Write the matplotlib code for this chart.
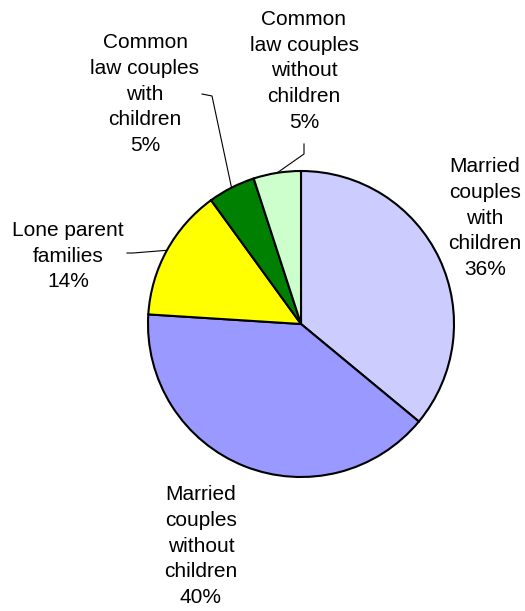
import numpy as np
import matplotlib.pyplot as plt

plt.rcParams['font.family'] = ['Liberation Sans', 'DejaVu Sans']

categorii = ['Married\ncouples\nwith\nchildren',
             'Married\ncouples\nwithout\nchildren',
             'Lone parent\nfamilies',
             'Common\nlaw couples\nwith\nchildren',
             'Common\nlaw couples\nwithout\nchildren']
procente = [36, 40, 14, 5, 5]
culori = ['#CCCCFF', '#9999FF', '#FFFF00', '#008000', '#CCFFCC']

W, H = 525, 611
# pozitii in pixeli (x, y de sus)
centru = (301, 324)
raza = 153
poz_etichete = [(485, 218), (201, 546), (68, 256), (145, 94), (304, 71)]
# capatul dinspre eticheta al liniei si cotul (None = fara linie)
linii = [None, None,
         [(127, 253), (133, 253)],
         [(202, 94), (212, 96)],
         [(304, 144), (304, 154)]]

fig = plt.figure(figsize=(W / 100, H / 100), dpi=100)
ax = fig.add_axes([0, 0, 1, 1])

wedges, _ = ax.pie(procente, colors=culori, startangle=90, counterclock=False,
                   center=(centru[0], H - centru[1]), radius=raza,
                   wedgeprops=dict(edgecolor='black', linewidth=1.5))

ax.set_xlim(0, W)
ax.set_ylim(0, H)
ax.set_aspect('equal')
ax.axis('off')

for i, w in enumerate(wedges):
    x, y = poz_etichete[i]
    ax.text(x, H - y, f'{categorii[i]}\n{procente[i]}%', ha='center', va='center',
            fontsize=15, linespacing=1.44)
    if linii[i] is not None:
        ang = np.deg2rad((w.theta1 + w.theta2) / 2)
        ex = centru[0] + raza * np.cos(ang)
        ey = H - centru[1] + raza * np.sin(ang)
        xs = [p[0] for p in linii[i]] + [ex]
        ys = [H - p[1] for p in linii[i]] + [ey]
        ax.plot(xs, ys, color='black', linewidth=0.8)

fig.savefig('out.png', dpi=100)
